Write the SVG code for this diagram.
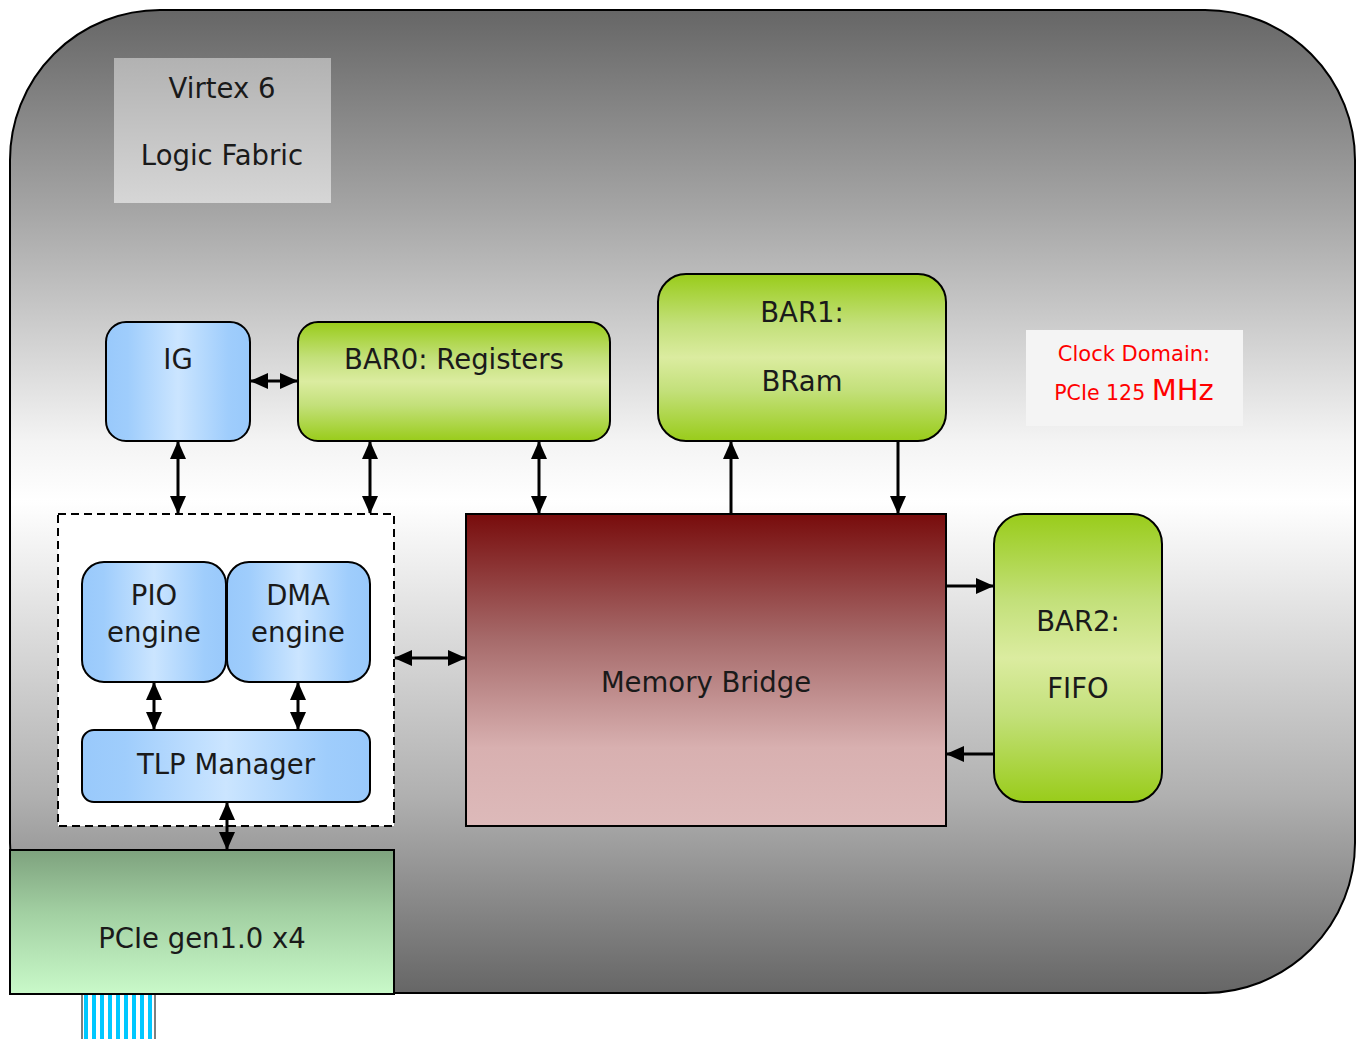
<svg xmlns="http://www.w3.org/2000/svg" width="1362" height="1039" viewBox="0 0 1362 1039">
<style>
.lbl{font-family:"DejaVu Sans","Liberation Sans",sans-serif;font-size:27.5px;fill:#1a1a1a;text-anchor:middle}
.node{stroke:#000;stroke-width:2}
.conn{stroke:#000;stroke-width:3;fill:none}
.clk{font-family:"DejaVu Sans","Liberation Sans",sans-serif;fill:#ff0000;text-anchor:middle}
</style>
<defs>
<linearGradient id="bg" x1="0" y1="0" x2="0" y2="1">
<stop offset="0" stop-color="#666"/>
<stop offset="0.2" stop-color="#a4a4a4"/>
<stop offset="0.44" stop-color="#f4f4f4"/>
<stop offset="0.5" stop-color="#fff"/>
<stop offset="0.8" stop-color="#b0b0b0"/>
<stop offset="1" stop-color="#666"/>
</linearGradient>
<linearGradient id="lab" x1="0" y1="0" x2="0" y2="1">
<stop offset="0" stop-color="#b2b2b2"/>
<stop offset="1" stop-color="#d6d6d6"/>
</linearGradient>
<linearGradient id="blue" x1="0" y1="0" x2="1" y2="0">
<stop offset="0" stop-color="#99c9fb"/>
<stop offset="0.15" stop-color="#9fcdfc"/>
<stop offset="0.5" stop-color="#cbe5ff"/>
<stop offset="0.85" stop-color="#9fcdfc"/>
<stop offset="1" stop-color="#99c9fb"/>
</linearGradient>
<linearGradient id="green" x1="0" y1="0" x2="0" y2="1">
<stop offset="0" stop-color="#99cc1a"/>
<stop offset="0.3" stop-color="#c3e07a"/>
<stop offset="0.5" stop-color="#dbeca0"/>
<stop offset="0.7" stop-color="#c3e07a"/>
<stop offset="1" stop-color="#99cc1a"/>
</linearGradient>
<linearGradient id="red" x1="0" y1="0" x2="0" y2="1">
<stop offset="0" stop-color="#780c0c"/>
<stop offset="0.4" stop-color="#a66a6a"/>
<stop offset="0.75" stop-color="#d8b0b0"/>
<stop offset="1" stop-color="#ddbaba"/>
</linearGradient>
<linearGradient id="pcie" x1="0" y1="0" x2="0" y2="1">
<stop offset="0" stop-color="#7ea27e"/>
<stop offset="0.45" stop-color="#a3d1a3"/>
<stop offset="1" stop-color="#c9f9c9"/>
</linearGradient>
<pattern id="stripes" x="82" y="0" width="8" height="10" patternUnits="userSpaceOnUse">
<rect width="8" height="10" fill="#ffffff"/>
<rect x="2" width="4" height="10" fill="#00c8ff"/>
</pattern>
<marker id="ah" markerWidth="18" markerHeight="16" refX="17" refY="8" orient="auto-start-reverse" markerUnits="userSpaceOnUse">
<path d="M0,0 L18,8 L0,16 Z" fill="#000"/>
</marker>
</defs>

<g id="fabric">
<rect x="10" y="10" width="1345" height="983" rx="150" ry="150" fill="url(#bg)" stroke="#000" stroke-width="2"/>
</g>

<g id="fabric-label">
<rect x="114" y="58" width="217" height="145" fill="url(#lab)"/>
<text class="lbl" x="222" y="98">Virtex 6</text>
<text class="lbl" x="222" y="165">Logic Fabric</text>
</g>

<g id="clock-domain">
<rect x="1026" y="330" width="217" height="96" fill="#f4f4f4"/>
<text class="clk" x="1134" y="361" font-size="21">Clock Domain:</text>
<text class="clk" x="1134" y="400" font-size="20.5">PCIe 125 <tspan font-size="29">MHz</tspan></text>
</g>

<g id="cable">
<rect x="82" y="994" width="73" height="46" fill="url(#stripes)" stroke="#000" stroke-width="1"/>
</g>

<g id="pcie">
<rect class="node" x="10" y="850" width="384" height="144" fill="url(#pcie)"/>
<text class="lbl" x="202" y="948">PCIe gen1.0 x4</text>
</g>

<g id="engine-group">
<rect x="58" y="514" width="336" height="312" fill="#fff" stroke="#000" stroke-width="2" stroke-dasharray="8,5"/>
</g>

<g id="ig">
<rect class="node" x="106" y="322" width="144" height="119" rx="20" fill="url(#blue)"/>
<text class="lbl" x="178" y="369">IG</text>
</g>

<g id="bar0">
<rect class="node" x="298" y="322" width="312" height="119" rx="20" fill="url(#green)"/>
<text class="lbl" x="454" y="369">BAR0: Registers</text>
</g>

<g id="bar1">
<rect class="node" x="658" y="274" width="288" height="167" rx="28" fill="url(#green)"/>
<text class="lbl" x="802" y="322">BAR1:</text>
<text class="lbl" x="802" y="391">BRam</text>
</g>

<g id="pio">
<rect class="node" x="82" y="562" width="144" height="120" rx="22" fill="url(#blue)"/>
<text class="lbl" x="154" y="605">PIO</text>
<text class="lbl" x="154" y="642">engine</text>
</g>

<g id="dma">
<rect class="node" x="227" y="562" width="143" height="120" rx="22" fill="url(#blue)"/>
<text class="lbl" x="298" y="605">DMA</text>
<text class="lbl" x="298" y="642">engine</text>
</g>

<g id="tlp">
<rect class="node" x="82" y="730" width="288" height="72" rx="12" fill="url(#blue)"/>
<text class="lbl" x="226" y="774">TLP Manager</text>
</g>

<g id="membridge">
<rect class="node" x="466" y="514" width="480" height="312" fill="url(#red)"/>
<text class="lbl" x="706" y="692">Memory Bridge</text>
</g>

<g id="bar2">
<rect class="node" x="994" y="514" width="168" height="288" rx="30" fill="url(#green)"/>
<text class="lbl" x="1078" y="631">BAR2:</text>
<text class="lbl" x="1078" y="698">FIFO</text>
</g>

<g id="connectors">
<line class="conn" x1="251" y1="381" x2="297" y2="381" marker-start="url(#ah)" marker-end="url(#ah)"/>
<line class="conn" x1="178" y1="442" x2="178" y2="513" marker-start="url(#ah)" marker-end="url(#ah)"/>
<line class="conn" x1="370" y1="442" x2="370" y2="513" marker-start="url(#ah)" marker-end="url(#ah)"/>
<line class="conn" x1="539" y1="442" x2="539" y2="513" marker-start="url(#ah)" marker-end="url(#ah)"/>
<line class="conn" x1="731" y1="513" x2="731" y2="442" marker-end="url(#ah)"/>
<line class="conn" x1="898" y1="442" x2="898" y2="513" marker-end="url(#ah)"/>
<line class="conn" x1="947" y1="586" x2="993" y2="586" marker-end="url(#ah)"/>
<line class="conn" x1="993" y1="754" x2="947" y2="754" marker-end="url(#ah)"/>
<line class="conn" x1="395" y1="658" x2="465" y2="658" marker-start="url(#ah)" marker-end="url(#ah)"/>
<line class="conn" x1="154" y1="683" x2="154" y2="729" marker-start="url(#ah)" marker-end="url(#ah)"/>
<line class="conn" x1="298" y1="683" x2="298" y2="729" marker-start="url(#ah)" marker-end="url(#ah)"/>
<line class="conn" x1="227" y1="803" x2="227" y2="849" marker-start="url(#ah)" marker-end="url(#ah)"/>
</g>
</svg>
